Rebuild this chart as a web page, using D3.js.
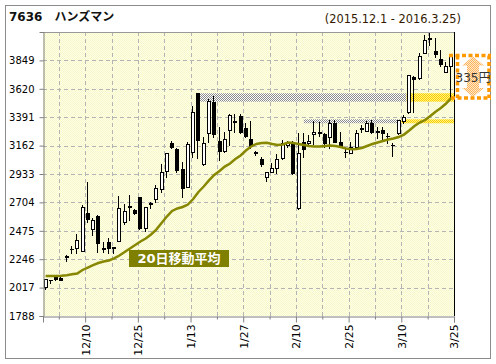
<!DOCTYPE html>
<html>
<head>
<meta charset="utf-8">
<script src="https://cdn.jsdelivr.net/npm/d3@7"></script>
<style>
  body { margin: 0; background: #fff; }
  svg { display: block; }
</style>
</head>
<body>
<svg id="chart" width="496" height="364"></svg>
<script>
// trading days, 2015.12.1 - 2016.3.25
const dates = [
  "12/1","12/2","12/3","12/4","12/7","12/8","12/9","12/10","12/11","12/14",
  "12/15","12/16","12/17","12/18","12/21","12/22","12/24","12/25","12/28","12/29",
  "12/30","1/4","1/5","1/6","1/7","1/8","1/12","1/13","1/14","1/15",
  "1/18","1/19","1/20","1/21","1/22","1/25","1/26","1/27","1/28","1/29",
  "2/1","2/2","2/3","2/4","2/5","2/8","2/9","2/10","2/12","2/15",
  "2/16","2/17","2/18","2/19","2/22","2/23","2/24","2/25","2/26","2/29",
  "3/1","3/2","3/3","3/4","3/7","3/8","3/9","3/10","3/11","3/14",
  "3/15","3/16","3/17","3/18","3/22","3/23","3/24","3/25"
];
const open = [
  2024,2080,2100,2098,2272,2330,2334,2315,2616,2487,
  2594,2334,2387,2343,2393,2548,2675,2643,2747,2495,
  2697,2731,2812,2957,3180,3135,2973,2830,3113,3584,
  3011,3261,3512,3199,3120,3288,3358,3401,3301,3213,
  3113,3054,2906,2952,2984,3060,3170,3180,2656,3195,
  3180,3255,3270,3258,3229,3345,3193,3112,3105,3153,
  3303,3282,3342,3280,3288,3242,3170,3261,3363,3430,
  3715,3707,3911,4030,3927,3858,3758,3806
];
const high = [
  2086,2082,2106,2102,2276,2350,2447,2683,2871,2576,
  2600,2385,2414,2345,2756,2689,2764,2650,2750,2670,
  2705,2844,3011,3105,3199,3140,3032,3188,3484,3590,
  3230,3540,3560,3315,3274,3415,3420,3420,3342,3363,
  3115,3070,2950,3019,3092,3205,3200,3200,3261,3261,
  3247,3360,3355,3262,3372,3372,3274,3140,3195,3288,
  3328,3363,3368,3315,3315,3261,3180,3372,3409,3735,
  3720,3905,4054,4072,4027,3933,3838,3885
];
const low = [
  2003,2056,2078,2078,2231,2294,2294,2310,2548,2441,
  2306,2306,2298,2298,2390,2526,2562,2610,2490,2476,
  2656,2705,2790,2911,3140,2952,2750,2825,3072,3064,
  3005,3193,3230,3046,3110,3167,3274,3260,3230,3140,
  3085,3000,2877,2950,2939,3055,3150,2930,2650,3072,
  3175,3175,3243,3150,3140,3190,3150,3070,3100,3150,
  3274,3278,3261,3220,3207,3180,3078,3255,3342,3425,
  3433,3700,3905,3973,3879,3804,3755,3546
];
const close = [
  2084,2078,2084,2082,2266,2326,2401,2664,2568,2562,
  2374,2330,2339,2337,2661,2635,2669,2616,2495,2666,
  2690,2818,2947,3100,3153,2965,2823,3172,3430,3207,
  3180,3522,3253,3118,3213,3409,3352,3274,3239,3159,
  3105,3014,2947,2979,3052,3180,3180,2941,3100,3135,
  3203,3274,3266,3183,3345,3193,3153,3108,3153,3261,
  3299,3342,3274,3274,3261,3236,3165,3368,3395,3731,
  3699,3884,4013,4024,3901,3820,3804,3881
];
const ma20 = [
  2111,2111,2111,2113,2116,2124,2131,2159,2179,2199,
  2215,2227,2236,2252,2276,2304,2332,2361,2389,2413,
  2445,2485,2538,2590,2635,2655,2667,2687,2731,2788,
  2832,2881,2925,2957,2993,3018,3054,3082,3122,3155,
  3175,3183,3185,3175,3167,3171,3187,3183,3175,3167,
  3159,3155,3155,3159,3163,3159,3151,3139,3132,3135,
  3143,3159,3175,3187,3199,3211,3219,3231,3251,3284,
  3320,3348,3368,3401,3435,3465,3501,3546
];
const yTicks = [1788, 2017, 2246, 2475, 2704, 2933, 3162, 3391, 3620, 3849];
const yTop = 4078;
const xLabels = ["12/10","12/25","1/13","1/27","2/10","2/25","3/10","3/25"];

// resistance zones: old highs, gray until broken, yellow after
const zoneHigh  = [3584, 3374];
const zoneLow   = [3516, 3342];
const zoneFrom  = ["1/15", "2/15"];
const zoneBreak = ["3/14", "3/11"];

const title = "7636\u3000ハンズマン";
const period = "(2015.12.1 - 2016.3.25)";
const maLabel = "20日移動平均";
const gapLabel = "335円";

const svg = d3.select("#chart");
const plot = { left: 43, top: 32, right: 454, bottom: 316 };
const FONT = "'DejaVu Sans', Verdana, 'Noto Sans CJK JP', sans-serif";

// patterns
const defs = svg.append("defs");
function checker(id, a, b) {
  const p = defs.append("pattern").attr("id", id)
    .attr("patternUnits", "userSpaceOnUse").attr("width", 2).attr("height", 2);
  p.append("rect").attr("width", 2).attr("height", 2).attr("fill", b);
  p.append("rect").attr("width", 1).attr("height", 1).attr("fill", a);
  p.append("rect").attr("x", 1).attr("y", 1).attr("width", 1).attr("height", 1).attr("fill", a);
}
checker("bgDots", "#f7f7cc", "#ffffe6");
checker("grayDots", "#8a8a8a", "#ffffff");
checker("yellowDots", "#ffcc00", "#fff380");
checker("arrowDots", "#ffb35c", "#ffe9c8");

// outer frame
svg.append("rect").attr("x", 5.5).attr("y", 5.5).attr("width", 485).attr("height", 353)
  .attr("fill", "#fff").attr("stroke", "#8c8c8c");

svg.append("text").attr("x", 9).attr("y", 21)
  .attr("font-family", FONT).attr("font-weight", "bold").attr("font-size", 12)
  .attr("fill", "#111").text(title);
svg.append("text").attr("x", 461).attr("y", 23).attr("text-anchor", "end")
  .attr("font-family", FONT).attr("font-size", 11.4)
  .attr("fill", "#331a00").text(period);

const x = d3.scaleLinear().domain([0, dates.length]).range([plot.left, plot.right]);
const y = d3.scaleLinear().domain([yTicks[0], yTop]).range([plot.bottom, plot.top]);
const idx = d => dates.indexOf(d);

svg.append("rect").attr("x", plot.left).attr("y", plot.top)
  .attr("width", plot.right - plot.left).attr("height", plot.bottom - plot.top)
  .attr("fill", "url(#bgDots)");

// tick positions every 5 trading days (at the right edge of the day)
const tickPos = d3.range(2, dates.length, 5).map(i => i + 1);

// grid
const grid = svg.append("g").attr("stroke", "#b4b4b4").attr("stroke-dasharray", "4,3");
grid.selectAll("line.h").data(yTicks.slice(1)).join("line")
  .attr("x1", plot.left).attr("x2", plot.right)
  .attr("y1", d => Math.round(y(d)) + 0.5).attr("y2", d => Math.round(y(d)) + 0.5);
grid.selectAll("line.v").data(tickPos.filter(p => p < dates.length)).join("line")
  .attr("y1", plot.top).attr("y2", plot.bottom)
  .attr("x1", d => Math.round(x(d)) + 0.5).attr("x2", d => Math.round(x(d)) + 0.5);

// zones
zoneHigh.forEach((hi, k) => {
  const x0 = x(idx(zoneFrom[k]) + 0.5), xb = x(idx(zoneBreak[k]));
  const yt = y(hi), h = y(zoneLow[k]) - y(hi);
  svg.append("rect").attr("x", x0).attr("y", yt).attr("width", xb - x0).attr("height", h)
    .attr("fill", "url(#grayDots)");
  svg.append("rect").attr("x", xb).attr("y", yt).attr("width", plot.right - xb).attr("height", h)
    .attr("fill", "url(#yellowDots)");
});

// candles
const cg = svg.append("g");
dates.forEach((d, i) => {
  const cx = Math.round(x(i + 0.5));
  const top = Math.round(y(Math.max(open[i], close[i]))) + 0.5;
  const bot = Math.round(y(Math.min(open[i], close[i]))) + 0.5;
  cg.append("line").attr("x1", cx - 0.5).attr("x2", cx - 0.5)
    .attr("y1", Math.round(y(high[i]))).attr("y2", Math.round(y(low[i])) + 1)
    .attr("stroke", "#000");
  if (bot - top < 1) {
    cg.append("line").attr("x1", cx - 2).attr("x2", cx + 2).attr("y1", top).attr("y2", top)
      .attr("stroke", "#000");
  } else {
    cg.append("rect").attr("x", cx - 1.5).attr("y", top).attr("width", 3).attr("height", bot - top)
      .attr("fill", close[i] >= open[i] ? "#fff" : "#000").attr("stroke", "#000");
  }
});

// 20-day moving average
svg.append("path").datum(ma20)
  .attr("d", d3.line().x((d, i) => x(i + 0.5)).y(d => y(d)))
  .attr("fill", "none").attr("stroke", "#878700").attr("stroke-width", 2.5);

svg.append("rect").attr("x", 129).attr("y", 250).attr("width", 100).attr("height", 17)
  .attr("fill", "#808000");
svg.append("text").attr("x", 179).attr("y", 263).attr("text-anchor", "middle")
  .attr("font-family", FONT).attr("font-weight", "bold").attr("font-size", 13)
  .attr("fill", "#fff").text(maLabel);

// plot borders and axes
svg.append("line").attr("x1", plot.left).attr("x2", plot.right).attr("y1", plot.top + 0.5).attr("y2", plot.top + 0.5)
  .attr("stroke", "#999");
svg.append("line").attr("x1", plot.right + 0.5).attr("x2", plot.right + 0.5).attr("y1", plot.top).attr("y2", plot.bottom)
  .attr("stroke", "#000");

const yAxis = svg.append("g").attr("transform", `translate(${plot.left + 0.5},0)`)
  .call(d3.axisLeft(y).tickValues(yTicks).tickSize(4).tickPadding(5).tickFormat(d3.format("d")));
yAxis.selectAll("text").attr("font-family", FONT).attr("font-size", 10).attr("fill", "#000");

const xAxis = svg.append("g").attr("transform", `translate(0,${plot.bottom + 0.5})`)
  .call(d3.axisBottom(x).tickValues(tickPos).tickSize(6)
    .tickFormat(p => xLabels.includes(dates[p - 1]) ? dates[p - 1] : ""));
xAxis.selectAll(".tick line").attr("y2", p => xLabels.includes(dates[p - 1]) ? 6 : 3);
xAxis.selectAll(".tick text")
  .attr("font-family", FONT).attr("font-size", 10.8).attr("fill", "#000")
  .attr("transform", "rotate(-90)").attr("text-anchor", "end")
  .attr("x", -8).attr("y", 0).attr("dy", "0.36em");

[yAxis, xAxis].forEach(a => {
  a.select(".domain").attr("stroke", "#808080");
  a.selectAll(".tick line").attr("stroke", "#808080");
});

// deviation of last close from the 20-day average
const last = dates.length - 1;
const yC = y(close[last]) - 1, yM = y(ma20[last]);
const ax = 473;
svg.append("path")
  .attr("d", `M${ax},${yC + 1} L${ax + 11},${yC + 10} L${ax + 6},${yC + 10} L${ax + 6},${yM - 10} L${ax + 11},${yM - 10}
              L${ax},${yM - 1} L${ax - 11},${yM - 10} L${ax - 6},${yM - 10} L${ax - 6},${yC + 10} L${ax - 11},${yC + 10} Z`)
  .attr("fill", "url(#arrowDots)");
const br = svg.append("g").attr("stroke", "#ff9900").attr("stroke-width", 3.5)
  .attr("stroke-dasharray", "4,2.5").attr("fill", "none");
br.append("line").attr("x1", 449).attr("x2", 491).attr("y1", yC).attr("y2", yC);
br.append("line").attr("x1", 451).attr("x2", 491).attr("y1", yM).attr("y2", yM);
br.append("line").attr("x1", 457.5).attr("x2", 457.5).attr("y1", yC).attr("y2", yM);
br.append("line").attr("x1", 489).attr("x2", 489).attr("y1", yC).attr("y2", yM);
svg.append("text").attr("x", 473).attr("y", (yC + yM) / 2 + 5).attr("text-anchor", "middle")
  .attr("font-family", FONT).attr("font-size", 12).attr("fill", "#333").text(gapLabel);
</script>
</body>
</html>
